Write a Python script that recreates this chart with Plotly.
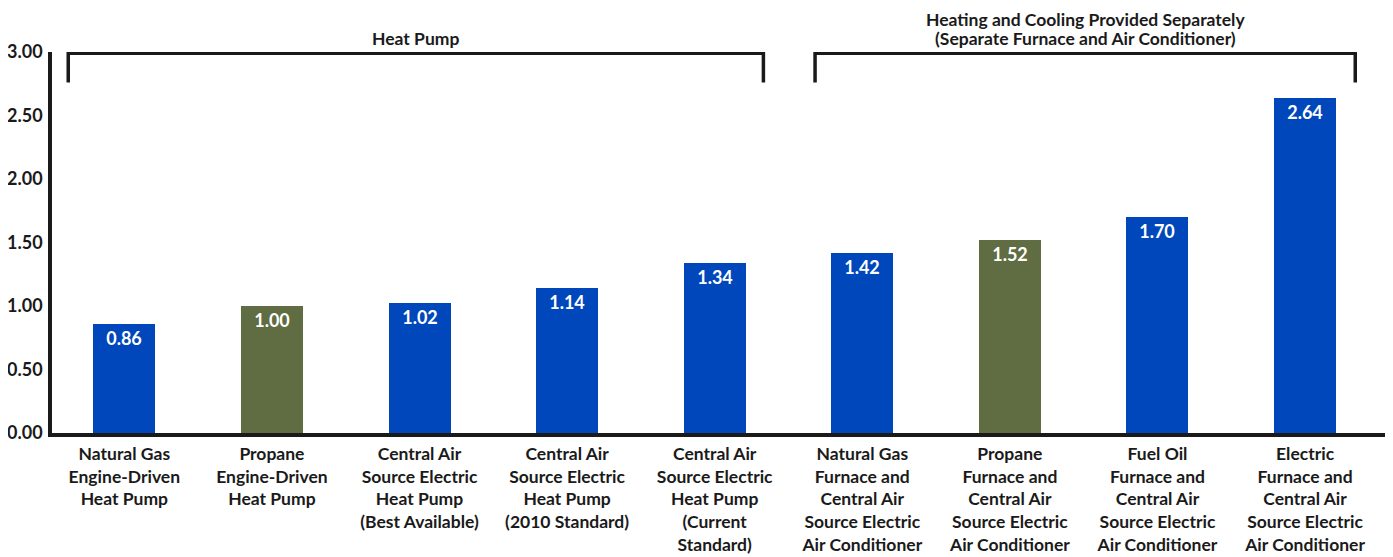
import plotly.graph_objects as go

categories = [
    "Natural Gas<br>Engine-Driven<br>Heat Pump",
    "Propane<br>Engine-Driven<br>Heat Pump",
    "Central Air<br>Source Electric<br>Heat Pump<br>(Best Available)",
    "Central Air<br>Source Electric<br>Heat Pump<br>(2010 Standard)",
    "Central Air<br>Source Electric<br>Heat Pump<br>(Current<br>Standard)",
    "Natural Gas<br>Furnace and<br>Central Air<br>Source Electric<br>Air Conditioner",
    "Propane<br>Furnace and<br>Central Air<br>Source Electric<br>Air Conditioner",
    "Fuel Oil<br>Furnace and<br>Central Air<br>Source Electric<br>Air Conditioner",
    "Electric<br>Furnace and<br>Central Air<br>Source Electric<br>Air Conditioner",
]
values = [0.86, 1.00, 1.02, 1.14, 1.34, 1.42, 1.52, 1.70, 2.64]
is_propane = [False, True, False, False, False, False, True, False, False]
value_labels = ["0.86", "1.00", "1.02", "1.14", "1.34", "1.42", "1.52", "1.70", "2.64"]
y_ticks = [0, 0.5, 1.0, 1.5, 2.0, 2.5, 3.0]

groups = [
    {"lines": ["Heat Pump"], "start": -0.38, "end": 4.33},
    {"lines": ["Heating and Cooling Provided Separately", "(Separate Furnace and Air Conditioner)"],
     "start": 4.68, "end": 8.34},
]

BLUE = "#0047BB"
OLIVE = "#606C41"
INK = "#1a1a1a"
FONT = "Lato"

x = list(range(len(categories)))
colors = [OLIVE if p else BLUE for p in is_propane]

fig = go.Figure()
fig.add_trace(go.Bar(
    x=x, y=values, width=0.42,
    marker=dict(color=colors, line=dict(width=0)),
    text=value_labels, textposition="inside", insidetextanchor="end",
    textfont=dict(family=FONT, size=18, color="white", weight="bold"),
    textangle=0, cliponaxis=False,
))

shapes = []
annotations = []
top = 2.99
leg = 2.76
for g in groups:
    shapes.append(dict(type="path", xref="x", yref="y",
                       path=f"M {g['start']},{leg} L {g['start']},{top} L {g['end']},{top} L {g['end']},{leg}",
                       line=dict(color=INK, width=3.5)))
    n = len(g["lines"])
    for i, line in enumerate(g["lines"]):
        annotations.append(dict(x=(g["start"] + g["end"]) / 2, y=top, xref="x", yref="y",
                                text=line, showarrow=False, yanchor="middle",
                                yshift=15 + 19 * (n - 1 - i),
                                font=dict(family=FONT, size=17.5, color=INK, weight="bold")))

fig.update_layout(
    width=1393, height=557,
    margin=dict(l=44, r=0, t=44, b=132),
    paper_bgcolor="white", plot_bgcolor="white",
    showlegend=False,
    shapes=shapes, annotations=annotations,
    bargap=0,
)
fig.update_xaxes(
    range=[-0.49, 8.65], tickvals=x, ticktext=categories,
    showline=True, linecolor=INK, linewidth=3.5, showgrid=False, ticks="",
    tickfont=dict(family=FONT, size=17.5, color=INK, weight="bold"),
    zeroline=False, tickangle=0, automargin=False, ticklabelstandoff=2,
)
fig.update_yaxes(
    range=[0, 3.0], tickvals=y_ticks, tickformat=".2f",
    showline=True, linecolor=INK, linewidth=3.5, showgrid=False, ticks="",
    tickfont=dict(family=FONT, size=18, color=INK, weight="bold"),
    zeroline=False, ticklabelstandoff=2, automargin=False,
)

fig.write_html("out.html")
